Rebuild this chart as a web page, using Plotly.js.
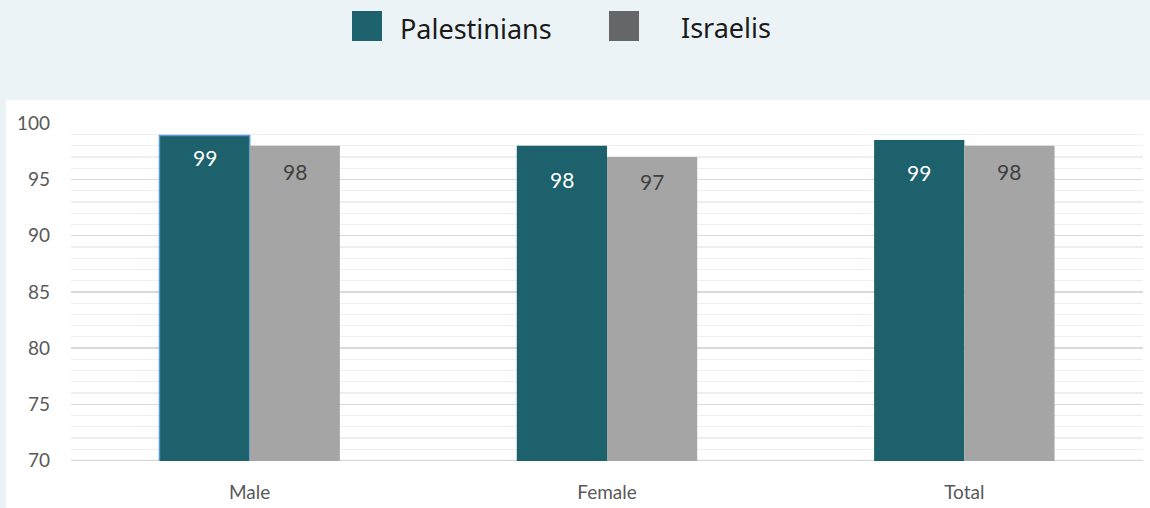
<!DOCTYPE html>
<html>
<head>
<meta charset="utf-8">
<script src="https://cdn.plot.ly/plotly-3.0.1.min.js"></script>
<style>html,body{margin:0;padding:0;background:#ebf3f6;}#chart{width:1150px;height:508px;}</style>
</head>
<body>
<div id="chart"></div>
<script>
// ---- data ----
const categories = ["Male", "Female", "Total"];
const seriesNames = ["Palestinians", "Israelis"];
const palestinians = [98.9, 98.0, 98.5];
const israelis = [98.0, 97.0, 98.0];
const palestiniansLabels = ["99", "98", "99"];
const israelisLabels = ["98", "97", "98"];
const yTickVals = [70, 75, 80, 85, 90, 95, 100];

// ---- layout geometry ----
const W = 1150, H = 508;
const M = {l: 71, r: 7, t: 123, b: 47};
const pw = W - M.l - M.r, ph = H - M.t - M.b;
const px = x => (x - M.l) / pw;
const py = y => (H - M.b - y) / ph;

const teal = "#1c616c", gray = "#a5a5a5", legendGray = "#646669";
const tealLabelShift = [-22, -34, -32];
const grayLabelShift = [-26, -25, -26];

const traces = [
  {type: "bar", name: seriesNames[0], x: categories, y: palestinians,
   marker: {color: teal, line: {color: ["#5b9bd5", teal, teal], width: [1.5, 0, 0]}},
   hoverinfo: "x+y"},
  {type: "bar", name: seriesNames[1], x: categories, y: israelis,
   marker: {color: gray}, hoverinfo: "x+y"}
];

const annotations = [];
categories.forEach((c, i) => {
  annotations.push({x: c, y: palestinians[i], xref: "x", yref: "y", text: palestiniansLabels[i],
    showarrow: false, xshift: -45, yshift: tealLabelShift[i], font: {family: "Lato, sans-serif", size: 21, color: "#ffffff"}});
  annotations.push({x: c, y: israelis[i], xref: "x", yref: "y", text: israelisLabels[i],
    showarrow: false, xshift: 45, yshift: grayLabelShift[i], font: {family: "Lato, sans-serif", size: 21, color: "#404040"}});
});
// legend (drawn manually)
annotations.push({xref: "paper", yref: "paper", x: px(398), y: py(29), xanchor: "left", yanchor: "middle",
  text: seriesNames[0], showarrow: false, font: {family: "Noto Sans, sans-serif", size: 27, color: "#1a1a1a"}});
annotations.push({xref: "paper", yref: "paper", x: px(679), y: py(27), xanchor: "left", yanchor: "middle",
  text: seriesNames[1], showarrow: false, font: {family: "Noto Sans, sans-serif", size: 27, color: "#1a1a1a"}});

const shapes = [
  {type: "rect", xref: "paper", yref: "paper", layer: "below",
   x0: px(6), x1: px(1150), y0: py(100), y1: py(510), fillcolor: "#ffffff", line: {width: 0}},
  {type: "line", xref: "paper", yref: "y", layer: "below", x0: 0, x1: 1, y0: 70, y1: 70,
   line: {color: "#d9d9d9", width: 1.5}},
  {type: "rect", xref: "paper", yref: "paper", x0: px(352), x1: px(382), y0: py(41), y1: py(11),
   fillcolor: teal, line: {width: 0}},
  {type: "rect", xref: "paper", yref: "paper", x0: px(609), x1: px(639), y0: py(41), y1: py(11),
   fillcolor: legendGray, line: {width: 0}}
];

const layout = {
  width: W, height: H,
  margin: M,
  paper_bgcolor: "#ebf3f6",
  plot_bgcolor: "rgba(0,0,0,0)",
  barmode: "group", bargap: 0.495, bargroupgap: 0,
  showlegend: false,
  font: {family: "Lato, sans-serif", color: "#595959"},
  xaxis: {type: "category", showgrid: false, showline: false, zeroline: false, ticks: "",
    tickfont: {family: "Lato, sans-serif", size: 19, color: "#595959"}, ticklabelstandoff: 18},
  yaxis: {range: [69.96, 100.02], tickvals: yTickVals, showgrid: true, gridcolor: "#d9d9d9", gridwidth: 1.5,
    zeroline: false, showline: false, ticks: "",
    minor: {dtick: 1, showgrid: true, gridcolor: "#eeeeee", gridwidth: 1.2},
    tickfont: {family: "Lato, sans-serif", size: 19, color: "#595959"}, ticklabelstandoff: 20},
  annotations: annotations,
  shapes: shapes
};

Plotly.newPlot("chart", traces, layout, {displayModeBar: false, staticPlot: true});
</script>
</body>
</html>
